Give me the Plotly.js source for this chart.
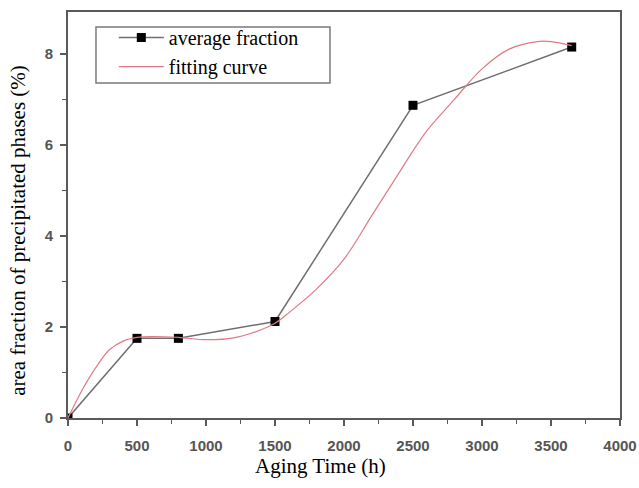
<!DOCTYPE html>
<html>
<head>
<meta charset="utf-8">
<script src="https://cdn.plot.ly/plotly-3.0.1.min.js"></script>
<style>html,body{margin:0;padding:0;background:#fff;}#chart{width:639px;height:488px;}</style>
</head>
<body>
<div id="chart"></div>
<script>
// Measured data
const agingTime = [0, 500, 800, 1500, 2500, 3650];
const avgFraction = [0, 1.75, 1.75, 2.12, 6.87, 8.15];

// Fitting curve
const fitTime = [0, 100, 200, 300, 400, 500, 600, 800, 1000, 1200, 1400, 1500, 1600, 1800, 2000, 2200, 2400, 2500, 2600, 2800, 3000, 3200, 3400, 3500, 3650];
const fitValue = [0, 0.6, 1.1, 1.5, 1.69, 1.77, 1.79, 1.77, 1.72, 1.76, 1.94, 2.08, 2.31, 2.83, 3.49, 4.44, 5.39, 5.87, 6.31, 7.0, 7.67, 8.11, 8.27, 8.27, 8.18];

const xTicks = [0, 500, 1000, 1500, 2000, 2500, 3000, 3500, 4000];
const yTicks = [0, 2, 4, 6, 8];

const xTitle = 'Aging Time (h)';
const yTitle = 'area fraction of precipitated phases (%)';

const serif = '"Liberation Serif", "Times New Roman", serif';

const traces = [
  {
    x: agingTime, y: avgFraction, name: 'average fraction',
    mode: 'lines+markers', type: 'scatter',
    line: {color: '#6f6f6f', width: 1.5},
    marker: {symbol: 'square', size: 9, color: '#000'}
  },
  {
    x: fitTime, y: fitValue, name: 'fitting curve',
    mode: 'lines', type: 'scatter',
    line: {color: '#e07a86', width: 1.2, shape: 'spline'}
  }
];

const axisCommon = {
  showgrid: false, zeroline: false,
  showline: true, linecolor: '#5a5a5a', linewidth: 2, mirror: true,
  ticks: 'outside', ticklen: 6, tickwidth: 1.6, tickcolor: '#5a5a5a',
  tickfont: {family: '"Liberation Sans", Arial, sans-serif', size: 15, color: '#555', weight: 'bold'}
};

const layout = {
  width: 639, height: 488,
  margin: {l: 68, r: 19, t: 12, b: 70},
  paper_bgcolor: '#fff', plot_bgcolor: '#fff',
  showlegend: true,
  legend: {
    x: 0.083, y: 0.985, xanchor: 'left', yanchor: 'top',
    borderwidth: 0, bgcolor: 'rgba(0,0,0,0)',
    font: {family: serif, size: 20, color: '#000'},
    tracegroupgap: 0, itemwidth: 45
  },
  shapes: [{
    type: 'rect', xref: 'paper', yref: 'paper',
    x0: 0.0507, x1: 0.4746, y0: 0.825, y1: 0.963,
    line: {color: '#7a7a7a', width: 1.5}, fillcolor: 'rgba(0,0,0,0)', layer: 'below'
  }],
  annotations: [
    {text: xTitle, xref: 'paper', yref: 'paper', x: 0.457, y: -0.118,
     xanchor: 'center', yanchor: 'middle', showarrow: false,
     font: {family: serif, size: 21, color: '#000'}},
    {text: yTitle, xref: 'paper', yref: 'paper', x: -0.091, y: 0.463,
     xanchor: 'center', yanchor: 'middle', showarrow: false, textangle: -90,
     font: {family: serif, size: 21, color: '#000'}}
  ],
  xaxis: Object.assign({}, axisCommon, {
    range: [0, 4000], tickvals: xTicks, ticklabelstandoff: 7,
    minor: {dtick: 250, ticks: 'outside', ticklen: 4, tickwidth: 1.2, tickcolor: '#5a5a5a'}
  }),
  yaxis: Object.assign({}, axisCommon, {
    range: [0, 8.92], tickvals: yTicks, ticklabelstandoff: 4,
    minor: {dtick: 1, ticks: 'outside', ticklen: 4, tickwidth: 1.2, tickcolor: '#5a5a5a'}
  })
};

Plotly.newPlot('chart', traces, layout, {displayModeBar: false, staticPlot: true});
</script>
</body>
</html>
